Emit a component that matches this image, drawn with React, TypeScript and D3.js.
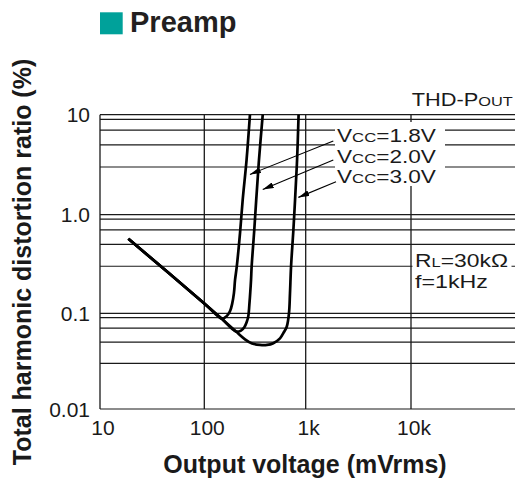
import { useEffect, useRef } from 'react'
import * as d3 from 'd3'

// THD vs output voltage
const vcc18X = [18.7, 100, 148, 160, 170, 180, 188, 196, 201, 209, 225, 239, 261, 282]
const vcc18Y = [0.57, 0.126, 0.088, 0.0905, 0.096, 0.106, 0.124, 0.16, 0.218, 0.297, 0.652, 1.4, 3.52, 10]

const vcc20X = [18.7, 100, 148, 205.6, 230, 249, 262, 272, 278, 284, 289, 293, 311, 325, 346, 377]
const vcc20Y = [0.57, 0.126, 0.088, 0.0645, 0.066, 0.072, 0.081, 0.094, 0.121, 0.164, 0.218, 0.297, 0.7, 1.4, 3.52, 10]

const vcc30X = [18.7, 100, 148, 205.6, 252, 296, 354, 415, 479, 558, 611, 650, 684, 700, 717, 756, 785, 822, 851]
const vcc30Y = [0.57, 0.126, 0.088, 0.0645, 0.0535, 0.0483, 0.0467, 0.0467, 0.0487, 0.0548, 0.0638, 0.0724, 0.1, 0.16, 0.297, 0.7, 1.4, 3.52, 10]

const xTicks = [10, 100, 1000, 10000]
const xTickLabels = ['10', '100', '1k', '10k']
const yTicks = [0.01, 0.1, 1, 10]
const yTickLabels = ['0.01', '0.1', '1.0', '10']
const yGrid = [0.01, 0.03, 0.05, 0.07, 0.09, 0.1, 0.3, 0.5, 0.7, 0.9, 1, 3, 5, 7, 9, 10]

// arrows: [x, y] in data units
const arrowFrom = [[1828, 5.46], [1828, 3.52], [1941, 2.14]]
const arrowTo = [[282, 2.53], [377, 1.79], [846, 1.49]]
const vccLabels = ['1.8V', '2.0V', '3.0V']

const W = 515
const H = 481
const INK = '#1a1a1a'
const FONT = '"Liberation Sans", Arial, Helvetica, sans-serif'

type Sel = d3.Selection<SVGGElement, unknown, null, undefined>

// the annotation lettering on the scan is wider than Arial, so stretch it to fit
function fittedText(parent: Sel, x: number, y: number, width: number, size: number,
  parts: [string, number][]) {
  const g = parent.append('g').attr('transform', `translate(${x},${y})`)
  const t = g.append('text').style('font-size', `${size}px`)
  parts.forEach(([s, k]) => {
    t.append('tspan').style('font-size', `${size * k}px`).text(s)
  })
  const len = (t.node() as SVGTextElement).getComputedTextLength() || width
  g.attr('transform', `translate(${x},${y}) scale(${width / len},1)`)
}

export default function App() {
  const svgRef = useRef<SVGSVGElement>(null)

  useEffect(() => {
    if (!svgRef.current) return
    const svg = d3.select(svgRef.current)
    svg.selectAll('*').remove()

    // the scan's decades are not evenly spaced, so the scales are piecewise
    const x = d3.scaleLog()
      .domain([10, 100, 1000, 10000, 100000])
      .range([100, 204.3, 305.7, 411, 516])
    const y = d3.scaleLog()
      .domain([0.01, 0.1, 1, 10])
      .range([409, 313.3, 214.7, 114.7])

    const g = svg.append('g')

    // grid
    g.selectAll('.hgrid')
      .data(yGrid)
      .enter()
      .append('line')
      .attr('x1', x(10))
      .attr('x2', W)
      .attr('y1', d => y(d))
      .attr('y2', d => y(d))
      .style('stroke', INK)
      .style('stroke-width', 1.2)

    g.selectAll('.vgrid')
      .data(xTicks)
      .enter()
      .append('line')
      .attr('x1', d => x(d))
      .attr('x2', d => x(d))
      .attr('y1', y(10))
      .attr('y2', y(0.01))
      .style('stroke', INK)
      .style('stroke-width', 1.3)

    // white boxes behind the annotations
    g.append('rect')
      .attr('x', 335).attr('y', 122).attr('width', 110).attr('height', 64)
      .style('fill', 'white')
    g.append('rect')
      .attr('x', 412.5).attr('y', 249).attr('width', 99).attr('height', 43)
      .style('fill', 'white')

    // curves
    const line = d3.line<[number, number]>()
      .x(d => x(d[0]))
      .y(d => y(d[1]))
      .curve(d3.curveCatmullRom.alpha(0.5))

    const series: [number[], number[]][] = [
      [vcc18X, vcc18Y],
      [vcc20X, vcc20Y],
      [vcc30X, vcc30Y]
    ]
    series.forEach(([xs, ys]) => {
      const pts = xs.map((v, i) => [v, ys[i]] as [number, number])
      g.append('path')
        .attr('d', line(pts))
        .style('fill', 'none')
        .style('stroke', '#000')
        .style('stroke-width', 2.7)
        .style('stroke-linejoin', 'round')
    })

    // arrows
    svg.append('defs')
      .append('marker')
      .attr('id', 'arrow')
      .attr('viewBox', '0 0 11 6')
      .attr('refX', 11)
      .attr('refY', 3)
      .attr('markerWidth', 11)
      .attr('markerHeight', 6)
      .attr('markerUnits', 'userSpaceOnUse')
      .attr('orient', 'auto')
      .append('path')
      .attr('d', 'M0,0 L11,3 L0,6 Z')
      .style('fill', '#000')

    arrowFrom.forEach((a, i) => {
      const b = arrowTo[i]
      g.append('line')
        .attr('x1', x(a[0])).attr('y1', y(a[1]))
        .attr('x2', x(b[0])).attr('y2', y(b[1]))
        .style('stroke', '#000')
        .style('stroke-width', 1.1)
        .attr('marker-end', 'url(#arrow)')
    })

    const txt = svg.append('g')
      .style('font-family', FONT)
      .style('fill', INK)

    // Vcc labels
    const vccBase = [142, 162.5, 183]
    vccLabels.forEach((lab, i) => {
      fittedText(txt, 337, vccBase[i], 99, 18, [['V', 1], ['CC', 0.74], ['=' + lab, 1]])
    })

    // conditions
    fittedText(txt, 415, 266.5, 93, 19, [['R', 1], ['L', 0.72], ['=30kΩ', 1]])
    fittedText(txt, 415, 288, 73, 19, [['f=1kHz', 1]])
    fittedText(txt, 411.7, 105.7, 101, 18, [['THD-P', 1], ['OUT', 0.75]])

    // tick labels
    txt.selectAll('.ytick')
      .data(yTicks)
      .enter()
      .append('text')
      .attr('x', 90)
      .attr('y', d => y(d))
      .attr('dy', '0.36em')
      .style('text-anchor', 'end')
      .style('font-size', '21px')
      .text((d, i) => yTickLabels[i])

    txt.selectAll('.xtick')
      .data(xTicks)
      .enter()
      .append('text')
      .attr('x', d => x(d) + 3)
      .attr('y', 435)
      .style('text-anchor', 'middle')
      .style('font-size', '21px')
      .text((d, i) => xTickLabels[i])

    // axis titles
    txt.append('text')
      .attr('x', 305)
      .attr('y', 472.7)
      .style('text-anchor', 'middle')
      .style('font-size', '25px')
      .style('font-weight', 'bold')
      .text('Output voltage (mVrms)')

    txt.append('text')
      .attr('transform', 'translate(31,262) rotate(-90)')
      .style('text-anchor', 'middle')
      .style('font-size', '25px')
      .style('font-weight', 'bold')
      .text('Total harmonic distortion ratio (%)')

    // heading
    svg.append('rect')
      .attr('x', 100).attr('y', 12.3).attr('width', 22.7).attr('height', 22)
      .style('fill', '#00a19a')
    txt.append('text')
      .attr('x', 130).attr('y', 32.3)
      .style('font-size', '29px')
      .style('font-weight', 'bold')
      .style('fill', '#231f20')
      .text('Preamp')
  }, [])

  return (
    <svg
      ref={svgRef}
      width={W}
      height={H}
      style={{ position: 'absolute', left: 0, top: 0, background: 'white' }}
    />
  )
}
